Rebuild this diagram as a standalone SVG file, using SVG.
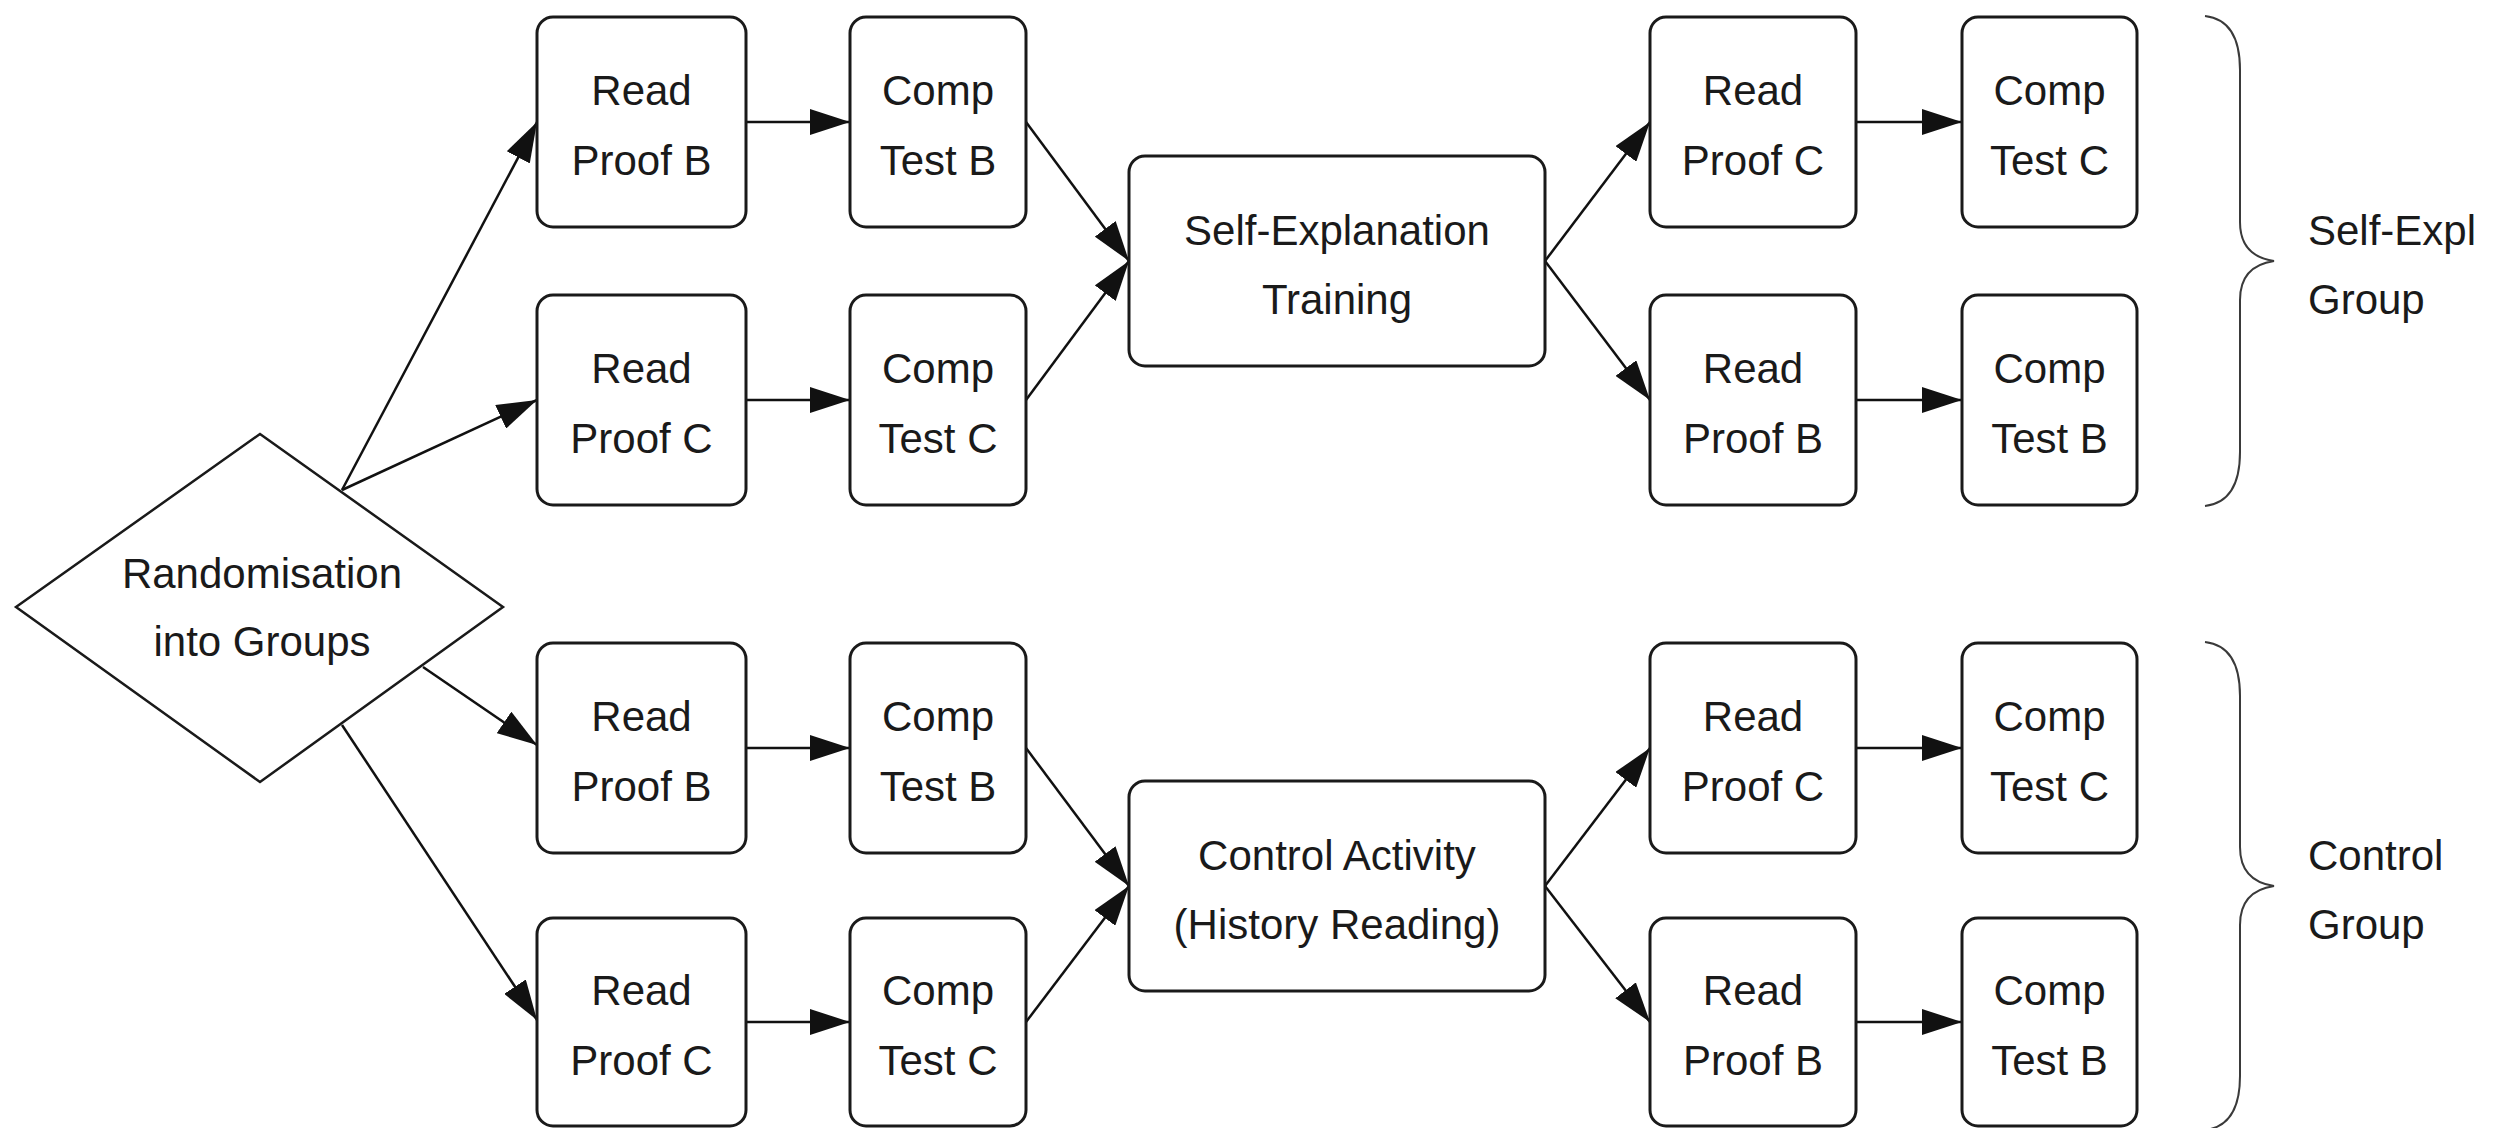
<svg xmlns="http://www.w3.org/2000/svg" width="2503" height="1128" viewBox="0 0 2503 1128">
  <defs>
    <marker id="arrow" viewBox="0 0 40 26" refX="40" refY="13" markerWidth="40" markerHeight="26" markerUnits="userSpaceOnUse" orient="auto">
      <path d="M0,0 L40,13 L0,26 z" fill="#111"/>
    </marker>
  </defs>
  <style>
    .box { fill: #fff; stroke: #1a1a1a; stroke-width: 3; }
    .dia { fill: #fff; stroke: #1a1a1a; stroke-width: 2.5; }
    .lbl { font-family: "Liberation Sans", Arial, sans-serif; font-size: 42px; fill: #1a1a1a; text-anchor: middle; }
    .side { font-family: "Liberation Sans", Arial, sans-serif; font-size: 42px; fill: #1a1a1a; }
    .edge { fill: none; stroke: #111; stroke-width: 2.5; marker-end: url(#arrow); }
    .brace { fill: none; stroke: #3a3a3a; stroke-width: 2; }
  </style>
  <rect width="2503" height="1128" fill="#fff"/>

  <!-- connectors -->
  <g id="connectors">
    <!-- randomisation to first readings -->
    <line class="edge" x1="342" y1="490" x2="537" y2="122"/>
    <line class="edge" x1="342" y1="490" x2="537" y2="400"/>
    <line class="edge" x1="423" y1="667" x2="537" y2="745"/>
    <line class="edge" x1="342" y1="725" x2="537" y2="1020"/>
    <!-- read to comp, left column -->
    <line class="edge" x1="746" y1="122" x2="850" y2="122"/>
    <line class="edge" x1="746" y1="400" x2="850" y2="400"/>
    <line class="edge" x1="746" y1="748" x2="850" y2="748"/>
    <line class="edge" x1="746" y1="1022" x2="850" y2="1022"/>
    <!-- comp tests into activities -->
    <line class="edge" x1="1026" y1="122" x2="1129" y2="261"/>
    <line class="edge" x1="1026" y1="400" x2="1129" y2="261"/>
    <line class="edge" x1="1026" y1="748" x2="1129" y2="886"/>
    <line class="edge" x1="1026" y1="1022" x2="1129" y2="886"/>
    <!-- activities to second readings -->
    <line class="edge" x1="1545" y1="261" x2="1650" y2="122"/>
    <line class="edge" x1="1545" y1="261" x2="1650" y2="400"/>
    <line class="edge" x1="1545" y1="886" x2="1650" y2="748"/>
    <line class="edge" x1="1545" y1="886" x2="1650" y2="1022"/>
    <!-- read to comp, right column -->
    <line class="edge" x1="1856" y1="122" x2="1962" y2="122"/>
    <line class="edge" x1="1856" y1="400" x2="1962" y2="400"/>
    <line class="edge" x1="1856" y1="748" x2="1962" y2="748"/>
    <line class="edge" x1="1856" y1="1022" x2="1962" y2="1022"/>
  </g>

  <!-- decision node -->
  <g id="randomisation">
    <polygon class="dia" points="16,607 260,434 503,607 260,782"/>
    <text class="lbl" x="262" y="588">Randomisation</text>
    <text class="lbl" x="262" y="656">into Groups</text>
  </g>

  <!-- self-explanation group, first pass -->
  <g id="se-read-b1">
    <rect class="box" x="537" y="17" width="209" height="210" rx="16"/>
    <text class="lbl" x="641.5" y="105">Read</text>
    <text class="lbl" x="641.5" y="175">Proof B</text>
  </g>
  <g id="se-comp-b1">
    <rect class="box" x="850" y="17" width="176" height="210" rx="16"/>
    <text class="lbl" x="938" y="105">Comp</text>
    <text class="lbl" x="938" y="175">Test B</text>
  </g>
  <g id="se-read-c1">
    <rect class="box" x="537" y="295" width="209" height="210" rx="16"/>
    <text class="lbl" x="641.5" y="383">Read</text>
    <text class="lbl" x="641.5" y="453">Proof C</text>
  </g>
  <g id="se-comp-c1">
    <rect class="box" x="850" y="295" width="176" height="210" rx="16"/>
    <text class="lbl" x="938" y="383">Comp</text>
    <text class="lbl" x="938" y="453">Test C</text>
  </g>

  <g id="se-training">
    <rect class="box" x="1129" y="156" width="416" height="210" rx="16"/>
    <text class="lbl" x="1337" y="245">Self-Explanation</text>
    <text class="lbl" x="1337" y="314">Training</text>
  </g>

  <!-- self-explanation group, second pass -->
  <g id="se-read-c2">
    <rect class="box" x="1650" y="17" width="206" height="210" rx="16"/>
    <text class="lbl" x="1753" y="105">Read</text>
    <text class="lbl" x="1753" y="175">Proof C</text>
  </g>
  <g id="se-comp-c2">
    <rect class="box" x="1962" y="17" width="175" height="210" rx="16"/>
    <text class="lbl" x="2049.5" y="105">Comp</text>
    <text class="lbl" x="2049.5" y="175">Test C</text>
  </g>
  <g id="se-read-b2">
    <rect class="box" x="1650" y="295" width="206" height="210" rx="16"/>
    <text class="lbl" x="1753" y="383">Read</text>
    <text class="lbl" x="1753" y="453">Proof B</text>
  </g>
  <g id="se-comp-b2">
    <rect class="box" x="1962" y="295" width="175" height="210" rx="16"/>
    <text class="lbl" x="2049.5" y="383">Comp</text>
    <text class="lbl" x="2049.5" y="453">Test B</text>
  </g>

  <!-- control group, first pass -->
  <g id="ctl-read-b1">
    <rect class="box" x="537" y="643" width="209" height="210" rx="16"/>
    <text class="lbl" x="641.5" y="731">Read</text>
    <text class="lbl" x="641.5" y="801">Proof B</text>
  </g>
  <g id="ctl-comp-b1">
    <rect class="box" x="850" y="643" width="176" height="210" rx="16"/>
    <text class="lbl" x="938" y="731">Comp</text>
    <text class="lbl" x="938" y="801">Test B</text>
  </g>
  <g id="ctl-read-c1">
    <rect class="box" x="537" y="918" width="209" height="208" rx="16"/>
    <text class="lbl" x="641.5" y="1005">Read</text>
    <text class="lbl" x="641.5" y="1075">Proof C</text>
  </g>
  <g id="ctl-comp-c1">
    <rect class="box" x="850" y="918" width="176" height="208" rx="16"/>
    <text class="lbl" x="938" y="1005">Comp</text>
    <text class="lbl" x="938" y="1075">Test C</text>
  </g>

  <g id="ctl-activity">
    <rect class="box" x="1129" y="781" width="416" height="210" rx="16"/>
    <text class="lbl" x="1337" y="870">Control Activity</text>
    <text class="lbl" x="1337" y="939">(History Reading)</text>
  </g>

  <!-- control group, second pass -->
  <g id="ctl-read-c2">
    <rect class="box" x="1650" y="643" width="206" height="210" rx="16"/>
    <text class="lbl" x="1753" y="731">Read</text>
    <text class="lbl" x="1753" y="801">Proof C</text>
  </g>
  <g id="ctl-comp-c2">
    <rect class="box" x="1962" y="643" width="175" height="210" rx="16"/>
    <text class="lbl" x="2049.5" y="731">Comp</text>
    <text class="lbl" x="2049.5" y="801">Test C</text>
  </g>
  <g id="ctl-read-b2">
    <rect class="box" x="1650" y="918" width="206" height="208" rx="16"/>
    <text class="lbl" x="1753" y="1005">Read</text>
    <text class="lbl" x="1753" y="1075">Proof B</text>
  </g>
  <g id="ctl-comp-b2">
    <rect class="box" x="1962" y="918" width="175" height="208" rx="16"/>
    <text class="lbl" x="2049.5" y="1005">Comp</text>
    <text class="lbl" x="2049.5" y="1075">Test B</text>
  </g>

  <!-- group braces and labels -->
  <g id="se-group">
    <path class="brace" d="M2205,16 Q2240,20 2240,70 L2240,222 Q2240,256 2274,261 Q2240,266 2240,300 L2240,452 Q2240,502 2205,506"/>
    <text class="side" x="2308" y="245">Self-Expl</text>
    <text class="side" x="2308" y="314">Group</text>
  </g>
  <g id="ctl-group">
    <path class="brace" d="M2205,642 Q2240,646 2240,696 L2240,847 Q2240,881 2274,886 Q2240,891 2240,925 L2240,1076 Q2240,1126 2205,1130"/>
    <text class="side" x="2308" y="870">Control</text>
    <text class="side" x="2308" y="939">Group</text>
  </g>
</svg>
